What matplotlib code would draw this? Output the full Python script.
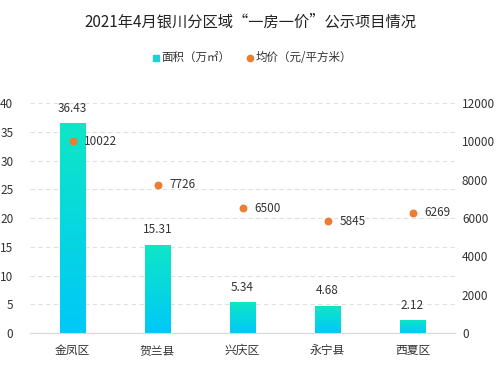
import numpy as np
import matplotlib.pyplot as plt
from matplotlib.colors import LinearSegmentedColormap

plt.rcParams['font.family'] = ['Noto Sans CJK SC', 'DejaVu Sans']

districts = ['金凤区', '贺兰县', '兴庆区', '永宁县', '西夏区']
area = [36.43, 15.31, 5.34, 4.68, 2.12]
price = [10022, 7726, 6500, 5845, 6269]

fig = plt.figure(figsize=(5, 3.75), dpi=100)
ax = fig.add_axes([0.06, 0.112, 0.85, 0.613])
ax2 = ax.twinx()

cmap = LinearSegmentedColormap.from_list('bar', ['#00C8F8', '#0EE6C6'])
grad = np.linspace(0, 1, 100).reshape(-1, 1)
w = 0.3
x = np.arange(len(districts))
for i, h in enumerate(area):
    ax.imshow(grad, extent=[x[i] - w / 2, x[i] + w / 2, 0, h], origin='lower',
              aspect='auto', cmap=cmap, zorder=2)
    ax.text(x[i], h + 1.5, f'{h:.2f}', ha='center', va='bottom', fontsize=8.5, color='#333333')

ax.set_xlim(-0.5, len(districts) - 0.5)
ax.set_ylim(0, 40)
ax.set_yticks(range(0, 41, 5))
ax.set_xticks(x)
ax.set_xticklabels(districts, fontsize=8.5, color='#333333')
ax.grid(axis='y', color='#E0E0E0', linestyle=(0, (4, 3)), linewidth=0.8, zorder=0)
ax.set_axisbelow(True)
ax.tick_params(axis='both', length=0, labelsize=8.5, labelcolor='#333333')
ax.tick_params(axis='x', pad=8)
ax.tick_params(axis='y', pad=12)
for s in ['top', 'left', 'right']:
    ax.spines[s].set_visible(False)
    ax2.spines[s].set_visible(False)
ax.spines['bottom'].set_color('#D8D8D8')
ax2.spines['bottom'].set_visible(False)

ax2.scatter(x, price, color='#ED7D31', s=22, zorder=5)
for i, p in enumerate(price):
    ax2.text(x[i] + 0.14, p, str(p), ha='left', va='center', fontsize=8.5, color='#333333')
ax2.set_ylim(0, 12000)
ax2.set_yticks(range(0, 12001, 2000))
ax2.tick_params(axis='y', length=0, labelsize=8.5, labelcolor='#333333', pad=5)

fig.text(0.5, 0.94, '2021年4月银川分区域“一房一价”公示项目情况', ha='center', va='center',
         fontsize=11, color='#222222')

# legend
fig.patches.append(plt.Rectangle((0.305, 0.838), 0.012, 0.016, transform=fig.transFigure,
                                 color='#1CCFD8'))
fig.text(0.322, 0.846, '面积（万㎡）', ha='left', va='center', fontsize=8.3, color='#333333')
fig.add_artist(plt.Line2D([0.5], [0.846], marker='o', markersize=4.5, color='#ED7D31',
                          transform=fig.transFigure))
fig.text(0.512, 0.846, '均价（元/平方米）', ha='left', va='center', fontsize=8.3, color='#333333')

fig.savefig('out.png', dpi=100)
